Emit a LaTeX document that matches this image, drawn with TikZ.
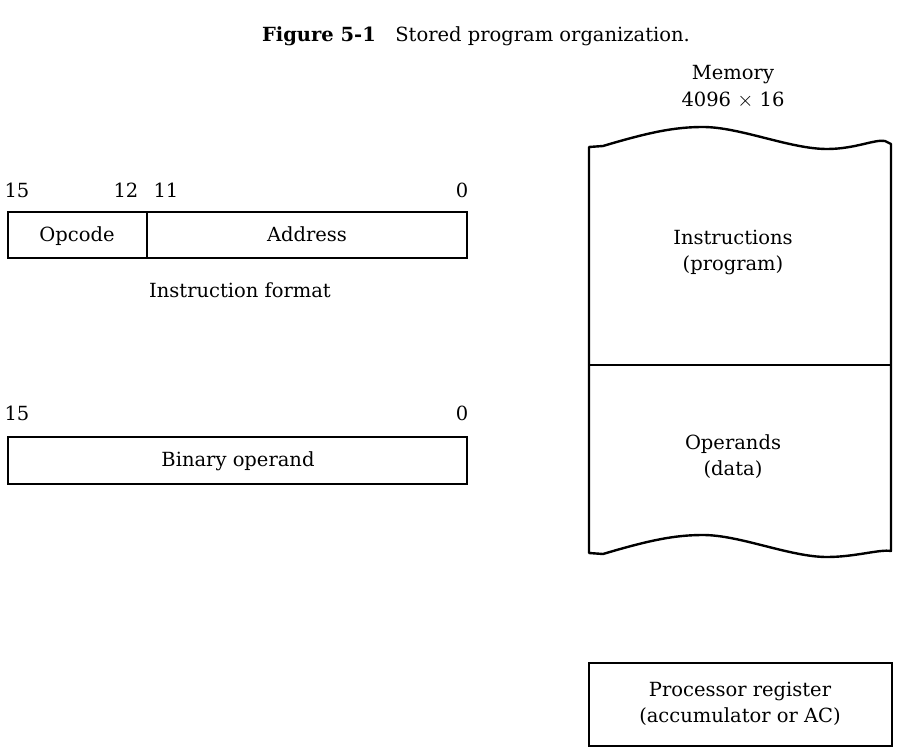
\documentclass[tikz,border=0pt]{standalone}
\usepackage{fontspec}
\setmainfont{DejaVu Serif}
\usetikzlibrary{positioning}

\tikzset{
  lbl/.style={font=\fontsize{19.5}{26}\selectfont, inner sep=0pt, align=center},
  line/.style={lbl, text height=14pt, text depth=4pt},
  reg/.style={draw=black, line width=2.4pt}
}

\begin{document}
\begin{tikzpicture}[x=1pt, y=-1pt]
   \useasboundingbox (0,0) rectangle (899,754);

   % title
   \node[line] (title) at (476,37) {\textbf{Figure 5-1}\quad Stored program organization.};

   % instruction format
   \draw[reg] (8,212) rectangle (467,258);
   \draw[reg] (147,212) -- (147,258);
   \node[line] (opcode) at (77,236) {Opcode};
   \node[line] (address) at (307,236) {Address};
   \node[line] (b15) at (17,192) {15};
   \node[line] (b12) at (126,192) {12};
   \node[line] (b11) at (166,192) {11};
   \node[line] (b0) at (462,192) {0};
   \node[line] (iformat) at (240,292) {Instruction format};

   % binary operand
   \draw[reg] (8,437) rectangle (467,484);
   \node[line] (operand) at (238,461) {Binary operand};
   \node[line] (d15) at (17,415) {15};
   \node[line] (d0) at (462,415) {0};

   % memory
   \node[lbl, font=\fontsize{19.5}{27}\selectfont] (memory) at (733,87) {Memory\\4096 $\times$ 16};
   \draw[reg, line join=round] (589,553) -- (589,147) -- (603,146)
      .. controls (650,132) and (675,127) .. (703,127)
      .. controls (740,127) and (790,149) .. (827,149)
      .. controls (855,149) and (875,139) .. (885,141)
      -- (891,144) -- (891,551)
      .. controls (880,549) and (855,557) .. (827,557)
      .. controls (790,557) and (740,535) .. (703,535)
      .. controls (675,535) and (650,540) .. (603,554)
      -- cycle;
   \draw[reg] (589,365) -- (891,365);
   \node[lbl] (instr) at (733,252) {Instructions\\(program)};
   \node[lbl] (data) at (733,457) {Operands\\(data)};

   % accumulator
   \draw[reg] (589,663) rectangle (892,746);
   \node[lbl] (acc) at (740,704) {Processor register\\(accumulator or AC)};
\end{tikzpicture}
\end{document}
